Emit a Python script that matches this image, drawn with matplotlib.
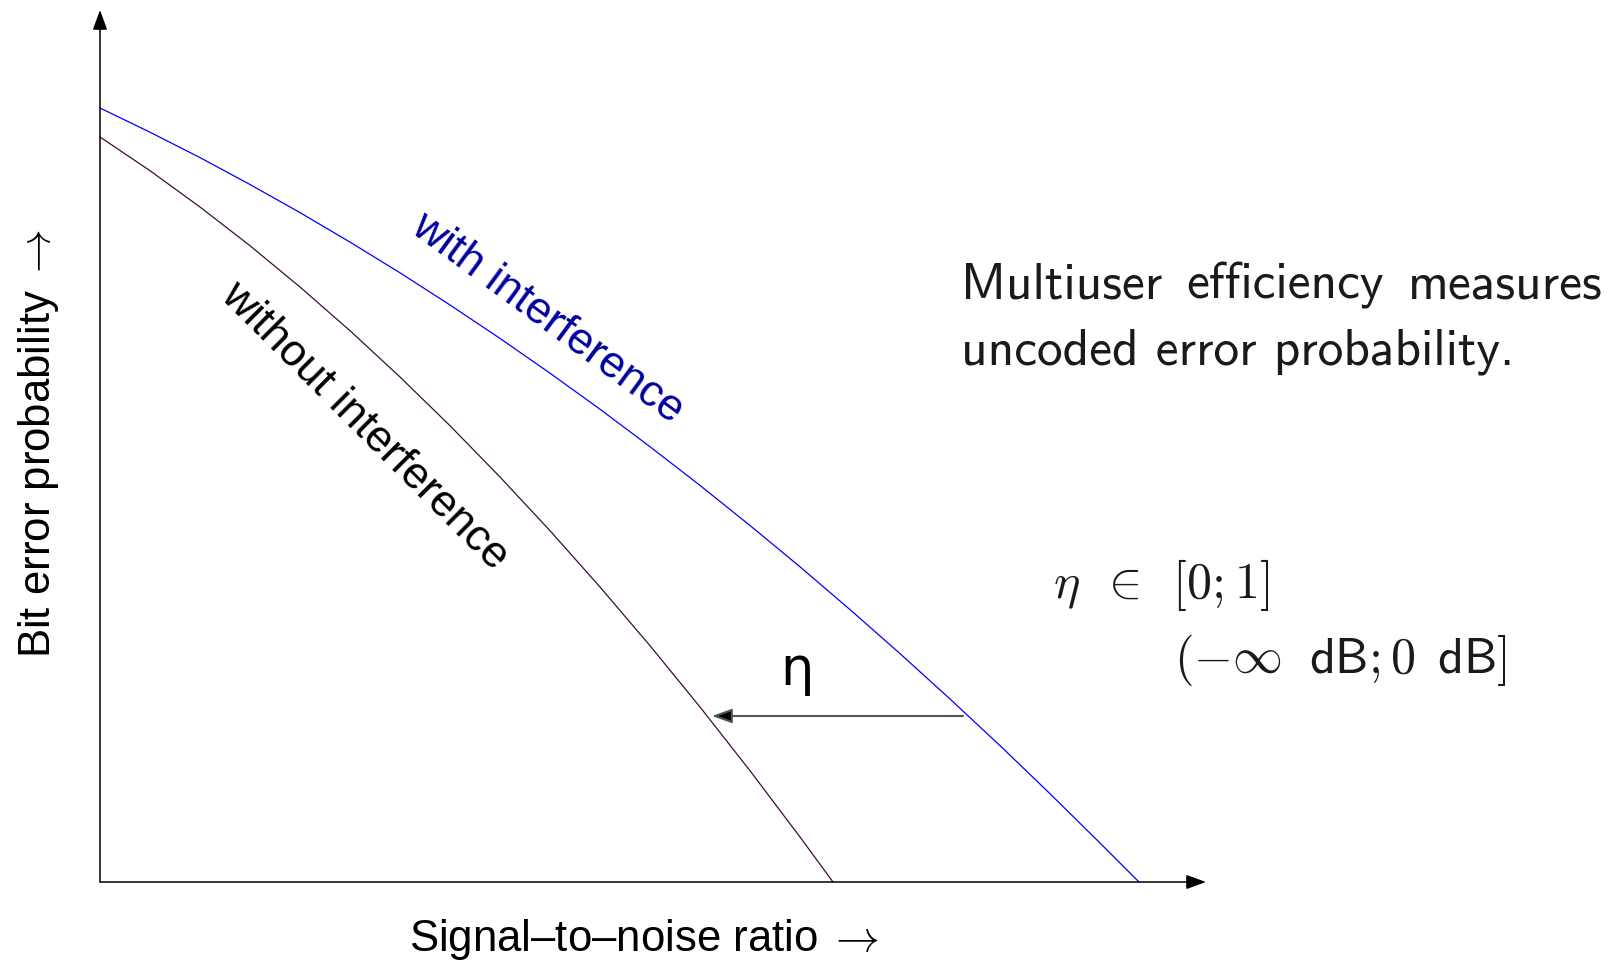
import matplotlib

matplotlib.use("Agg")
import matplotlib.pyplot as plt  # noqa: E402

plt.rcParams["mathtext.fontset"] = "cm"
plt.rcParams["font.family"] = ["Liberation Sans", "DejaVu Sans"]

# bit error curves, sketched (SNR and BER in arbitrary units)
snr_without = [0.0, 0.5, 1.0, 1.5, 2.0, 2.5, 3.0, 3.5, 4.0, 4.5, 5.0, 5.5, 6.0,
               6.5, 7.0, 7.33]
ber_without = [7.450, 7.113, 6.750, 6.363, 5.950, 5.513, 5.050, 4.563, 4.050,
               3.513, 2.950, 2.363, 1.750, 1.113, 0.450, 0.0]
snr_with = [0.0, 0.5, 1.0, 1.5, 2.0, 2.5, 3.0, 3.5, 4.0, 4.5, 5.0, 5.5, 6.0, 6.5,
            7.0, 7.5, 8.0, 8.5, 9.0, 9.5, 10.0, 10.39]
ber_with = [7.740, 7.498, 7.244, 6.975, 6.694, 6.399, 6.092, 5.770, 5.436, 5.088,
            4.728, 4.353, 3.966, 3.565, 3.152, 2.724, 2.284, 1.830, 1.364, 0.883,
            0.390, 0.0]

# SNR loss arrow (eta) between the two curves
eta_level = 1.66
eta_from = 8.63
eta_to = 6.12

x_axis_end = 11.06
y_axis_end = 8.72

fig = plt.figure(figsize=(16.09, 9.66), dpi=100)
ax = fig.add_axes([0, 0, 1, 1])
ax.set_xlim(-1.0, 15.09)
ax.set_ylim(-0.84, 8.82)
ax.set_axis_off()

axis_arrow = dict(arrowstyle="-|>,head_length=0.55,head_width=0.2", mutation_scale=22,
                  lw=1.1, color="black", shrinkA=0, shrinkB=0)
ax.annotate("", xy=(x_axis_end, 0), xytext=(0, 0), arrowprops=axis_arrow)
ax.annotate("", xy=(0, y_axis_end), xytext=(0, 0), arrowprops=axis_arrow)

ax.plot(snr_without, ber_without, color="#3f0a3f", lw=0.9)
ax.plot(snr_with, ber_with, color="#0000ff", lw=0.9)

ax.annotate("", xy=(eta_to, eta_level), xytext=(eta_from, eta_level),
            arrowprops=dict(arrowstyle="-|>,head_length=0.55,head_width=0.2",
                            mutation_scale=22, lw=1.5, ec="#555555", fc="black",
                            shrinkA=0, shrinkB=0))
ax.text(6.97, 2.12, "η", family="DejaVu Sans", fontsize=38, ha="center", va="center")

ax.text(4.47, 5.64, "with interference", color="#0000a0", fontsize=32,
        rotation=-36.3, ha="center", va="center")
ax.text(2.64, 4.56, "without interference", color="black", fontsize=32,
        rotation=-45, ha="center", va="center")

ax.text(5.44, -0.69, r"Signal–to–noise ratio$\;\rightarrow$", fontsize=31.5,
        ha="center", va="baseline")
ax.text(-0.615, 4.38, r"Bit error probability$\;\rightarrow$", fontsize=31.5,
        rotation=90, ha="center", va="center")

# justified first line
sans = dict(family="cmss10", fontsize=37, va="baseline", color="#1a1a1a")
ax.text(8.61, 5.84, "Multiuser", ha="left", **sans)
ax.text(11.85, 5.84, "efficiency", ha="center", **sans)
ax.text(15.03, 5.84, "measures", ha="right", **sans)
ax.text(8.61, 5.18, "uncoded error probability.", ha="left", **sans)

ax.text(9.53, 2.84, r"$\eta\ \,\in\ \,[0;1]$", fontsize=36, va="baseline",
        ha="left", color="#1a1a1a")
ax.text(10.74, 2.09, r"$(-\infty\ \;\mathsf{dB};0\ \,\mathsf{dB}]$", fontsize=36,
        va="baseline", ha="left", color="#1a1a1a")

fig.savefig("out.png", dpi=100, facecolor="white")
